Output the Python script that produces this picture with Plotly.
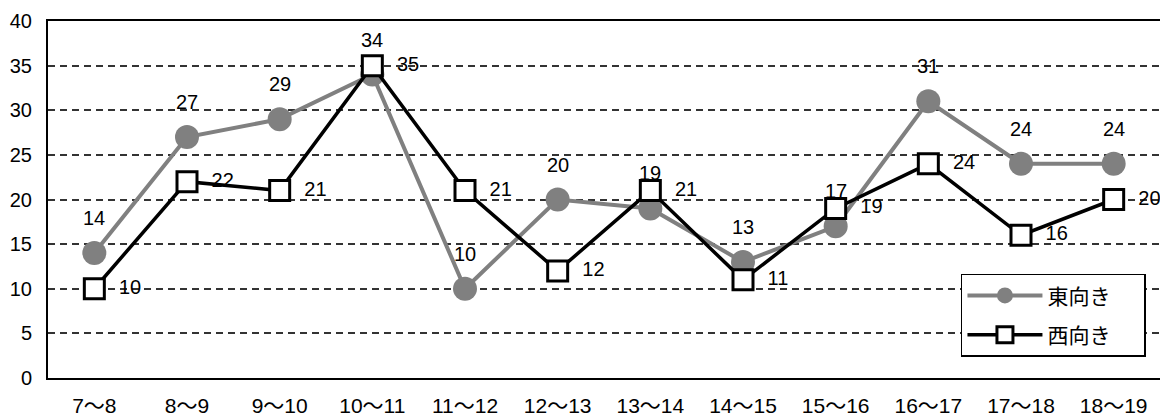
import plotly.graph_objects as go

categories = ["7～8", "8～9", "9～10", "10～11", "11～12", "12～13", "13～14", "14～15", "15～16", "16～17", "17～18", "18～19"]
east = [14, 27, 29, 34, 10, 20, 19, 13, 17, 31, 24, 24]
west = [10, 22, 21, 35, 21, 12, 21, 11, 19, 24, 16, 20]
y_ticks = [0, 5, 10, 15, 20, 25, 30, 35, 40]
series_names = ["東向き", "西向き"]

FONT = "Liberation Sans, Noto Sans CJK JP"
CJK = "Noto Sans CJK JP"
PAD = "\u00a0" * 6

fig = go.Figure()
fig.add_trace(go.Scatter(
    x=categories, y=east, name=series_names[0] + PAD, mode="lines+markers", legendgroup="e",
    line=dict(color="#808080", width=4),
    marker=dict(symbol="circle", size=24, color="#808080"),
))
fig.add_trace(go.Scatter(
    x=categories, y=west, name=series_names[1] + PAD, mode="lines+markers+text", legendgroup="w",
    line=dict(color="#000000", width=3.5),
    marker=dict(symbol="square", size=20, color="#ffffff", line=dict(color="#000000", width=3)),
    text=["\u00a0\u00a0" + str(v) for v in west], textposition="middle right",
    textfont=dict(size=20, color="#000000", family=FONT),
))

for c, v in zip(categories, east):
    fig.add_annotation(x=c, y=v, text=str(v), showarrow=False, yshift=35,
                       font=dict(size=20, color="#000000", family=FONT))

fig.update_layout(
    width=1160, height=411,
    margin=dict(l=40, r=8, t=13, b=41),
    paper_bgcolor="#ffffff", plot_bgcolor="#ffffff",
    font=dict(family=FONT, size=20, color="#000000"),
    showlegend=True,
    legend=dict(
        x=0.821, y=0.292, xanchor="left", yanchor="top",
        bordercolor="#000000", borderwidth=1.5, bgcolor="#ffffff",
        font=dict(size=21, family=CJK),
        itemwidth=75, traceorder="grouped", tracegroupgap=9,
    ),
)
fig.update_xaxes(
    type="category", range=[-0.5, 11.5], automargin=False,
    showline=True, linecolor="#000000", linewidth=2, mirror=True,
    showgrid=False, ticks="outside", ticklen=8, tickcolor="rgba(0,0,0,0)",
    tickfont=dict(size=21, family=FONT), ticklabeloverflow="allow",
)
fig.update_yaxes(
    range=[0, 40], tickvals=y_ticks, automargin=False,
    showline=True, linecolor="#000000", linewidth=2, mirror=True,
    showgrid=True, gridcolor="#333333", griddash="7px,5px", gridwidth=1.5,
    zeroline=False, ticks="outside", ticklen=10, tickcolor="rgba(0,0,0,0)",
    tickfont=dict(size=20, family=FONT), ticklabeloverflow="allow",
)

fig.write_html("out.html")
